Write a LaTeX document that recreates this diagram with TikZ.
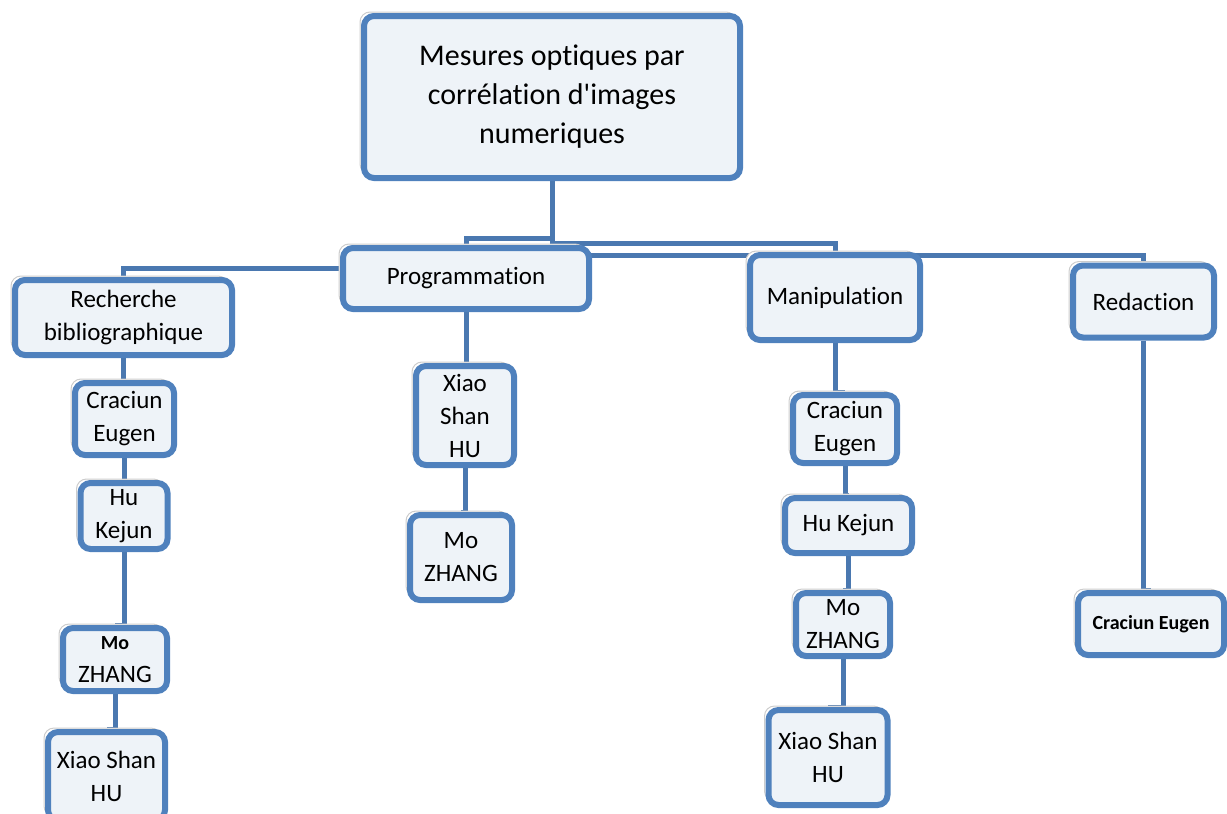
\documentclass[tikz,border=0pt]{standalone}
\usepackage{fontspec}
\setmainfont{Carlito}[Ligatures={NoCommon}]
\usetikzlibrary{backgrounds,shadows}
\definecolor{boxblue}{HTML}{4F81BD}
\definecolor{linkblue}{HTML}{4A78B0}
\definecolor{boxfill}{HTML}{EEF3F8}

\begin{document}
\begin{tikzpicture}[x=0.5pt,y=-0.5pt,
    box/.style={draw=boxblue, line width=3pt, fill=boxfill, rounded corners=5pt,
      align=center, inner sep=1pt, font=\fontsize{12.5}{16.5}\selectfont,
      drop shadow={shadow xshift=-2pt, shadow yshift=2pt, fill=white,
        draw=black!20, line width=0.5pt, opacity=1}},
    link/.style={draw=linkblue, line width=2.5pt}]
    \useasboundingbox (0,0) rectangle (1227,814);

    \node[box, minimum width=188pt, minimum height=81pt, font=\fontsize{15}{19.5}\selectfont]
      (root) at (552,97) {Mesures optiques par\\corrélation d\textquotesingle images\\numeriques};

    \node[box, minimum width=123pt, minimum height=30.5pt] (prog) at (466,278.5) {Programmation};
    \node[box, minimum width=108.5pt, minimum height=37.5pt] (rech) at (123.5,317.5) {Recherche\\bibliographique};
    \node[box, minimum width=85pt, minimum height=42.5pt] (manip) at (835,297.5) {Manipulation};
    \node[box, minimum width=70.5pt, minimum height=36pt] (redac) at (1143.5,301.5) {Redaction};

    \node[box, minimum width=49.5pt, minimum height=36pt] (r1) at (124.5,419) {Craciun\\Eugen};
    \node[box, minimum width=43.5pt, minimum height=33pt] (r2) at (124,516) {Hu\\Kejun};
    \node[box, minimum width=52pt, minimum height=31.5pt] (r3) at (115,659.5)
      {{\bfseries\fontsize{10}{12}\selectfont Mo}\\ZHANG};
    \node[box, minimum width=58.5pt, minimum height=44pt] (r4) at (106.5,776) {Xiao Shan\\HU};

    \node[box, minimum width=49pt, minimum height=49.5pt] (p1) at (465,415.5) {Xiao\\Shan\\HU};
    \node[box, minimum width=51pt, minimum height=42.5pt] (p2) at (461,557.5) {Mo\\ZHANG};

    \node[box, minimum width=52pt, minimum height=34pt] (m1) at (845,429) {Craciun\\Eugen};
    \node[box, minimum width=63.5pt, minimum height=27.5pt] (m2) at (848.5,525.5) {Hu Kejun};
    \node[box, minimum width=47pt, minimum height=31.5pt] (m3) at (843,624.5) {Mo\\ZHANG};
    \node[box, minimum width=59.5pt, minimum height=47.5pt] (m4) at (828,757.5) {Xiao Shan\\HU};

    \node[box, minimum width=73pt, minimum height=31pt, font=\bfseries\fontsize{10}{12}\selectfont]
      (d1) at (1151,624) {Craciun Eugen};

    \begin{scope}[on background layer]
      \coordinate (busP) at (552,238);
      \coordinate (busM) at (552,243);
      \coordinate (busD) at (552,255);
      \coordinate (busR) at (552,268);
      \draw[link] (root) -- (busP) -| (prog);
      \draw[link] (root) -- (busM) -| (manip);
      \draw[link] (root) -- (busD) -| (redac);
      \draw[link] (root) -- (busR) -| (rech);

      \draw[link] (rech.south) |- (r1.north);
      \draw[link] (r1.south) |- (r2.north);
      \draw[link] (r2.south) |- (r3.north);
      \draw[link] (r3.south) |- (r4.north);

      \draw[link] (prog.south) |- (p1.north);
      \draw[link] (p1.south) |- (p2.north);

      \draw[link] (manip.south) |- (m1.north);
      \draw[link] (m1.south) |- (m2.north);
      \draw[link] (m2.south) |- (m3.north);
      \draw[link] (m3.south) |- (m4.north);

      \draw[link] (redac.south) |- (d1.north);
    \end{scope}
\end{tikzpicture}
\end{document}
